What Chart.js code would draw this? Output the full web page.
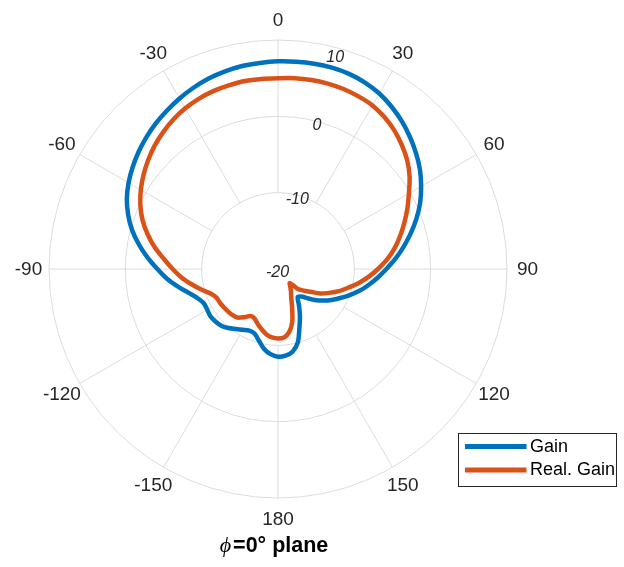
<!DOCTYPE html>
<html>
<head>
<meta charset="utf-8">
<script src="https://cdn.jsdelivr.net/npm/chart.js@4.4.1/dist/chart.umd.min.js"></script>
<style>
  html, body { margin: 0; padding: 0; background: #ffffff; }
  #wrap { width: 624px; height: 567px; }
</style>
</head>
<body>
<div id="wrap"><canvas id="pattern" width="624" height="567"></canvas></div>
<script>
// Sample angles (degrees, clockwise from boresight)
const anglesDeg = [
  0, 5, 10, 15, 20, 25, 30, 35, 40, 45, 50, 55,
  60, 65, 70, 75, 80, 85, 90, 95, 100, 105, 110, 115,
  120, 125, 130, 135, 140, 145, 150, 155, 160, 165, 170, 175,
  180, 185, 190, 195, 200, 205, 210, 215, 220, 225, 230, 235,
  240, 245, 250, 255, 260, 265, 270, 275, 280, 285, 290, 295,
  300, 305, 310, 315, 320, 325, 330, 335, 340, 345, 350, 355
];

// Gain (dB)
const gainDb = [
  7.2, 7.25, 7.3, 7.3, 7.2, 6.95, 6.55, 5.95, 5.25, 4.45, 3.6, 2.7,
  1.65, 0.55, -0.7, -2.0, -3.3, -4.55, -5.8, -6.9, -7.95, -8.95, -10.0, -11.0,
  -11.9, -12.8, -13.7, -14.6, -15.3, -15.5, -14.5, -13.2, -11.8, -10.0, -9.0, -8.6,
  -8.5, -8.8, -9.4, -10.3, -11.0, -11.1, -10.8, -10.4, -9.9, -9.5, -9.3, -9.2,
  -9.3, -9.3, -8.8, -7.9, -6.7, -5.4, -4.2, -2.85, -1.5, -0.2, 0.9, 1.85,
  2.6, 3.25, 3.85, 4.4, 4.9, 5.35, 5.8, 6.2, 6.55, 6.8, 7.0, 7.1
];

// Realized gain (dB)
const realGainDb = [
  5.0, 5.1, 5.15, 5.15, 5.1, 4.95, 4.75, 4.3, 3.7, 2.95, 2.1, 1.05,
  -0.2, -1.3, -2.4, -3.45, -4.5, -5.65, -6.9, -8.1, -9.3, -10.5, -11.5, -12.6,
  -13.6, -14.8, -15.6, -16.3, -17.6, -17.2, -16.6, -15.9, -14.6, -12.8, -11.6, -11.0,
  -10.9, -11.0, -11.3, -11.8, -12.3, -12.8, -12.9, -12.3, -11.7, -11.5, -11.4, -11.3,
  -11.2, -11.1, -10.6, -9.6, -8.5, -7.3, -6.2, -5.0, -3.6, -2.3, -1.1, -0.1,
  0.75, 1.5, 2.2, 2.85, 3.4, 3.9, 4.3, 4.6, 4.8, 4.9, 5.0, 5.0
];

// Angular grid ticks (degrees, as labelled) and radial ticks (dB)
const thetaTicks = [0, 30, 60, 90, 120, 150, 180, -150, -120, -90, -60, -30];
const rTicks = [-20, -10, 0, 10];

const seriesNames = ['Gain', 'Real. Gain'];
const seriesColors = ['#0072BD', '#D95319'];
const planeTitle = { symbol: '\u03D5', rest: '=0\u00B0 plane' };

const GRID = '#dcdcdc';
const TEXT = '#262626';
const SANS = '"Liberation Sans", Arial, Helvetica, sans-serif';

function indexOfAngle(a) {
  return anglesDeg.indexOf(((a % 360) + 360) % 360);
}

const polarDecor = {
  id: 'polarDecor',
  beforeDatasetsDraw(chart) {
    const r = chart.scales.r;
    const ctx = chart.ctx;
    ctx.save();
    // spokes start at the first ring out from the centre
    ctx.strokeStyle = GRID;
    ctx.lineWidth = 1;
    thetaTicks.forEach(a => {
      const i = indexOfAngle(a);
      const p0 = r.getPointPositionForValue(i, rTicks[1]);
      const p1 = r.getPointPositionForValue(i, r.max);
      ctx.beginPath();
      ctx.moveTo(p0.x, p0.y);
      ctx.lineTo(p1.x, p1.y);
      ctx.stroke();
    });
    // radial tick labels along the 15 deg direction
    ctx.fillStyle = TEXT;
    ctx.font = 'italic 16px ' + SANS;
    ctx.textAlign = 'center';
    ctx.textBaseline = 'middle';
    const i15 = indexOfAngle(15);
    rTicks.forEach(v => {
      const p = r.getPointPositionForValue(i15, v);
      let dx = -0.5, dy = 4;
      if (v === r.max) { dx = -2; dy = 9.5; }
      ctx.fillText(String(v), p.x + dx, p.y + dy);
    });
    ctx.restore();
  },
  afterDraw(chart) {
    const r = chart.scales.r;
    const ctx = chart.ctx;
    ctx.save();
    // angular tick labels
    ctx.fillStyle = TEXT;
    ctx.font = '19px ' + SANS;
    ctx.textAlign = 'center';
    ctx.textBaseline = 'middle';
    thetaTicks.forEach(a => {
      const i = indexOfAngle(a);
      const p = r.getPointPosition(i, r.drawingArea + 20.5);
      ctx.fillText(String(a), p.x, p.y + 1);
    });

    // legend box
    const bx = 458.5, by = 433.5, bw = 158, bh = 53;
    ctx.fillStyle = '#ffffff';
    ctx.fillRect(bx, by, bw, bh);
    ctx.strokeStyle = '#262626';
    ctx.lineWidth = 1;
    ctx.strokeRect(bx, by, bw, bh);
    chart.data.datasets.forEach((ds, k) => {
      const y = by + 13 + k * 23.5;
      ctx.strokeStyle = ds.borderColor;
      ctx.lineWidth = 5;
      ctx.lineCap = 'butt';
      ctx.beginPath();
      ctx.moveTo(bx + 6.5, y);
      ctx.lineTo(bx + 68, y);
      ctx.stroke();
      ctx.fillStyle = '#000000';
      ctx.font = '18px ' + SANS;
      ctx.textAlign = 'left';
      ctx.textBaseline = 'middle';
      ctx.fillText(ds.label, bx + 71.5, y + 0.5);
    });

    // plane caption under the plot
    const base = 552;
    ctx.fillStyle = '#000000';
    ctx.textBaseline = 'alphabetic';
    ctx.textAlign = 'left';
    const fSym = 'italic 22px "Liberation Serif", "DejaVu Serif", serif';
    const fRest = 'bold 21.5px ' + SANS;
    ctx.font = fSym;
    const wSym = ctx.measureText(planeTitle.symbol).width;
    ctx.font = fRest;
    const wRest = ctx.measureText(planeTitle.rest).width;
    const gap = 2;
    const x0 = r.xCenter - 4 - (wSym + gap + wRest) / 2;
    ctx.font = fSym;
    ctx.fillText(planeTitle.symbol, x0, base);
    ctx.font = fRest;
    ctx.fillText(planeTitle.rest, x0 + wSym + gap, base);
    ctx.restore();
  }
};

new Chart(document.getElementById('pattern'), {
  type: 'radar',
  data: {
    labels: anglesDeg,
    datasets: [
      { label: seriesNames[0], data: gainDb, borderColor: seriesColors[0] },
      { label: seriesNames[1], data: realGainDb, borderColor: seriesColors[1] }
    ]
  },
  options: {
    responsive: false,
    animation: false,
    events: [],
    layout: { padding: { left: 49, top: 40, right: 117, bottom: 69 } },
    elements: {
      line: { borderWidth: 4.5, tension: 0.3, fill: false, borderJoinStyle: 'round', borderCapStyle: 'round' },
      point: { radius: 0, hoverRadius: 0 }
    },
    scales: {
      r: {
        min: rTicks[0],
        max: rTicks[rTicks.length - 1],
        startAngle: 0,
        ticks: { display: false, stepSize: 10 },
        pointLabels: { display: false },
        angleLines: { display: false },
        grid: { circular: true, color: GRID, lineWidth: 1 }
      }
    },
    plugins: {
      legend: { display: false },
      title: { display: false },
      tooltip: { enabled: false }
    }
  },
  plugins: [polarDecor]
});
</script>
</body>
</html>
